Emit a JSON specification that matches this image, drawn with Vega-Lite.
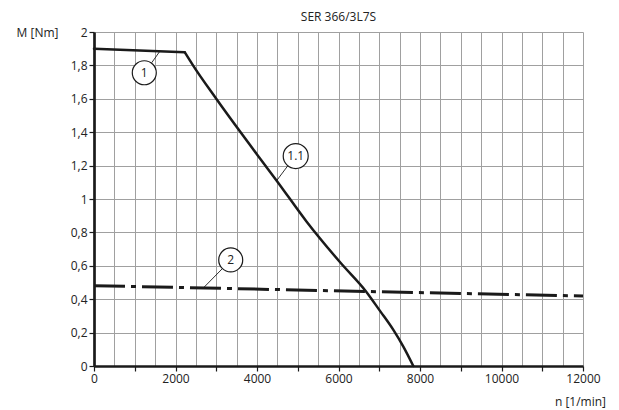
{
  "$schema": "https://vega.github.io/schema/vega-lite/v6.json",
  "width": 489,
  "height": 334,
  "autosize": "none",
  "padding": {"left": 94, "top": 32, "right": 36, "bottom": 44},
  "config": {
    "view": {"stroke": null},
    "font": "Open Sans",
    "text": {"font": "Open Sans"}
  },
  "title": {
    "text": "SER 366/3L7S",
    "font": "Open Sans",
    "fontSize": 12,
    "fontWeight": "normal",
    "color": "#222",
    "anchor": "middle",
    "baseline": "alphabetic",
    "offset": -7
  },
  "datasets": {
    "curves": [
      {"series": "1", "n": 0, "M": 1.9},
      {"series": "1", "n": 2226, "M": 1.879},
      {"series": "1.1", "n": 2226, "M": 1.879},
      {"series": "1.1", "n": 2430, "M": 1.8},
      {"series": "1.1", "n": 3000, "M": 1.6},
      {"series": "1.1", "n": 4074, "M": 1.243},
      {"series": "1.1", "n": 4483, "M": 1.11},
      {"series": "1.1", "n": 5219, "M": 0.864},
      {"series": "1.1", "n": 6050, "M": 0.618},
      {"series": "1.1", "n": 6680, "M": 0.445},
      {"series": "1.1", "n": 7018, "M": 0.33},
      {"series": "1.1", "n": 7346, "M": 0.216},
      {"series": "1.1", "n": 7591, "M": 0.116},
      {"series": "1.1", "n": 7836, "M": 0},
      {"series": "2", "n": 0, "M": 0.481},
      {"series": "2", "n": 12000, "M": 0.419}
    ],
    "labels": [
      {"label": "1", "n": 1234, "M": 1.756, "ln": 1416, "lM": 1.816, "ln2": 1620, "lM2": 1.886, "size": 576},
      {"label": "2", "n": 3355, "M": 0.635, "ln": 3158, "lM": 0.585, "ln2": 2682, "lM2": 0.467, "size": 576},
      {"label": "1.1", "n": 4950, "M": 1.257, "ln": 4753, "lM": 1.198, "ln2": 4483, "lM2": 1.11, "size": 625}
    ]
  },
  "encoding": {
    "x": {
      "field": "n", "type": "quantitative",
      "scale": {"domain": [0, 12000], "nice": false, "zero": false},
      "axis": {
        "title": "n [1/min]",
        "titleFont": "Open Sans", "titleFontSize": 12, "titleFontWeight": "normal", "titleColor": "#222",
        "titleAngle": 0, "titleX": 486, "titleY": 35, "titleAlign": "center", "titleBaseline": "middle",
        "values": [0,500,1000,1500,2000,2500,3000,3500,4000,4500,5000,5500,6000,6500,7000,7500,8000,8500,9000,9500,10000,10500,11000,11500,12000],
        "labelExpr": "datum.value % 2000 === 0 ? format(datum.value, 'd') : ''",
        "labelFont": "Open Sans", "labelFontSize": 12, "labelColor": "#222", "labelPadding": 2,
        "labelFlush": false, "labelOverlap": false,
        "grid": true, "gridColor": "#a0a0a0", "gridWidth": 1,
        "domainColor": "#1a1a1a", "domainWidth": 2.7,
        "tickColor": "#1a1a1a", "tickWidth": 1.2, "tickSize": 5,
        "tickOpacity": {"condition": {"test": "datum.value % 1000 === 0", "value": 1}, "value": 0}
      }
    },
    "y": {
      "field": "M", "type": "quantitative",
      "scale": {"domain": [0, 2], "nice": false},
      "axis": {
        "title": "M [Nm]",
        "titleFont": "Open Sans", "titleFontSize": 12, "titleFontWeight": "normal", "titleColor": "#222",
        "titleAngle": 0, "titleX": -57, "titleY": 0, "titleAlign": "center", "titleBaseline": "middle",
        "values": [0, 0.2, 0.4, 0.6, 0.8, 1, 1.2, 1.4, 1.6, 1.8, 2],
        "labelExpr": "replace(format(datum.value, '.1~f'), '.', ',')",
        "labelFont": "Open Sans", "labelFontSize": 12, "labelColor": "#222", "labelPadding": 2,
        "labelFlush": false, "labelOverlap": false,
        "grid": true, "gridColor": "#a0a0a0", "gridWidth": 1,
        "domainColor": "#1a1a1a", "domainWidth": 2.7,
        "tickColor": "#1a1a1a", "tickWidth": 1.2, "tickSize": 5
      }
    }
  },
  "layer": [
    {
      "data": {"name": "curves"},
      "transform": [{"filter": "datum.series === '1'"}],
      "mark": {"type": "line", "color": "#1a1a1a", "strokeWidth": 2.5, "strokeCap": "round"},
      "encoding": {}
    },
    {
      "data": {"name": "curves"},
      "transform": [{"filter": "datum.series === '1.1'"}],
      "mark": {"type": "line", "color": "#1a1a1a", "strokeWidth": 2.5, "interpolate": "monotone", "strokeCap": "round"},
      "encoding": {}
    },
    {
      "data": {"name": "curves"},
      "transform": [{"filter": "datum.series === '2'"}],
      "mark": {"type": "line", "color": "#1a1a1a", "strokeWidth": 3, "strokeDash": [31, 6, 5, 6], "strokeCap": "butt"},
      "encoding": {}
    },
    {
      "data": {"name": "labels"},
      "mark": {"type": "rule", "color": "#1a1a1a", "strokeWidth": 0.9},
      "encoding": {
        "x": {"field": "ln", "type": "quantitative"},
        "y": {"field": "lM", "type": "quantitative"},
        "x2": {"field": "ln2"},
        "y2": {"field": "lM2"}
      }
    },
    {
      "data": {"name": "labels"},
      "mark": {"type": "point", "shape": "circle", "filled": true, "fill": "white", "stroke": "#1a1a1a", "strokeWidth": 1.2, "opacity": 1},
      "encoding": {
        "size": {"field": "size", "type": "quantitative", "scale": null}
      }
    },
    {
      "data": {"name": "labels"},
      "mark": {"type": "text", "font": "Open Sans", "fontSize": 12, "color": "#222", "align": "center", "baseline": "middle"},
      "encoding": {
        "text": {"field": "label"}
      }
    }
  ]
}
